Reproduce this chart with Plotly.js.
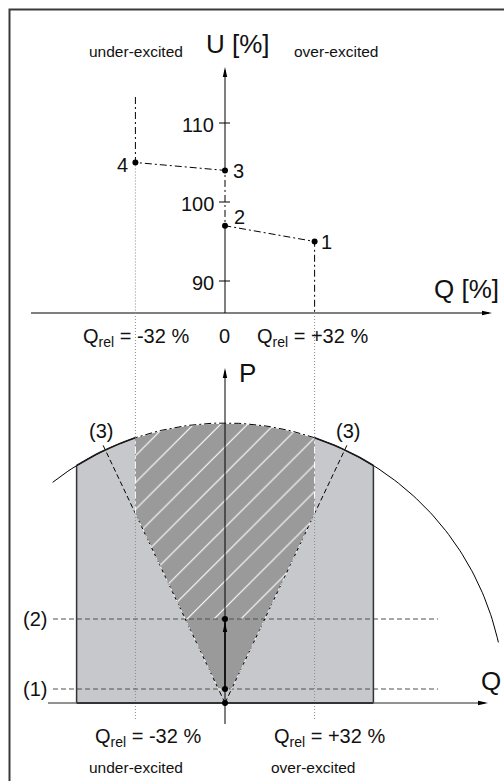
<!DOCTYPE html>
<html>
<head>
<meta charset="utf-8">
<script src="https://cdn.plot.ly/plotly-3.0.1.min.js"></script>
<style>
    html, body { margin: 0; padding: 0; background: #fff; }
    #chart { width: 504px; height: 781px; }
</style>
</head>
<body>
<div id="chart"></div>
<script>
// U(Q) characteristic, points 1..4
var pointNames = ['1', '2', '3', '4'];
var pointQ = [32, 0, 0, -32];
var pointU = [95, 97, 104, 105];
var uTickVals = [90, 100, 110];

// PQ diagram
var qRelLimits = [-32, 32];
var qBoxLimits = [-53, 53];
var pSteps = [5, 30];
var pStepNames = ['(1)', '(2)'];
var sRadius = 100;
var cosPhiQP = 0.473;     // Q/P of the (3) lines
var cosPhiTopP = 93;      // P where the (3) lines stop
var arcEnds = [128, 12.5]; // degrees, drawn part of the S circle

// page geometry in pixels
var W = 504, H = 781;
var X0 = 225, KX = 2.8;
var U100 = 202, KU = 7.9;
var P0 = 703, KP = 2.8;

function qAt(px) { return (px - X0) / KX; }
function uAt(py) { return 100 + (U100 - py) / KU; }
function pAt(py) { return (P0 - py) / KP; }

var FONT = 'Liberation Sans, Arial, sans-serif';
var DASHDOT = '7px,3px,2px,3px';
var DASH = '5px,3px';
var DOT = '1px,2px';

function deg(a) { return a * Math.PI / 180; }
function angleAtQ(q) { return Math.acos(q / sRadius) * 180 / Math.PI; }
function arc(a0, a1, n) {
    var q = [], p = [];
    for (var i = 0; i <= n; i++) {
        var a = deg(a0 + (a1 - a0) * i / n);
        q.push(sRadius * Math.cos(a));
        p.push(sRadius * Math.sin(a));
    }
    return {q: q, p: p};
}

var traces = [];
function line(q, v, axis, color, width, dash) {
    traces.push({
        type: 'scatter', mode: 'lines', x: q, y: v, yaxis: axis,
        line: {color: color, width: width, dash: dash || 'solid'},
        hoverinfo: 'skip', showlegend: false
    });
}
function dots(q, v, axis) {
    traces.push({
        type: 'scatter', mode: 'markers', x: q, y: v, yaxis: axis,
        marker: {color: '#000', size: 6},
        hoverinfo: 'skip', showlegend: false
    });
}

// ---------- upper chart: U over Q ----------
var uAxisQ = uAt(313);
line([0, 0], [uAxisQ, pointU[1]], 'y', '#000', 1);
line([0, 0], [pointU[2], uAt(70)], 'y', '#000', 1);
line([qAt(31), qAt(489)], [uAxisQ, uAxisQ], 'y', '#000', 1);
line([pointQ[3], pointQ[3]], [pointU[3], uAxisQ], 'y', '#8a8a8a', 1, DOT);

var charQ = [pointQ[3]].concat(pointQ.slice().reverse(), [pointQ[0]]);
var charU = [uAt(97)].concat(pointU.slice().reverse(), [uAxisQ]);
line(charQ, charU, 'y', '#000', 1, DASHDOT);
dots(pointQ, pointU, 'y');

// ---------- lower chart: P over Q ----------
var boxArc = arc(angleAtQ(qBoxLimits[1]), angleAtQ(qBoxLimits[0]), 60);
traces.push({
    type: 'scatter', mode: 'lines', yaxis: 'y2', fill: 'toself',
    x: [qBoxLimits[1]].concat(boxArc.q, [qBoxLimits[0]]),
    y: [0].concat(boxArc.p, [0]),
    fillcolor: '#c7c8cc', line: {width: 0},
    hoverinfo: 'skip', showlegend: false
});

var qStep1 = pSteps[0] * cosPhiQP;
var qStep2 = pSteps[1] * cosPhiQP;
var pKnee = qRelLimits[1] / cosPhiQP;
traces.push({
    type: 'scatter', mode: 'lines', yaxis: 'y2', fill: 'toself',
    x: [-qStep1, qStep1, qStep2, -qStep2],
    y: [pSteps[0], pSteps[0], pSteps[1], pSteps[1]],
    fillcolor: '#9a9a9a', line: {width: 0},
    hoverinfo: 'skip', showlegend: false
});
var topArc = arc(angleAtQ(qRelLimits[1]), angleAtQ(qRelLimits[0]), 40);
traces.push({
    type: 'scatter', mode: 'lines', yaxis: 'y2', fill: 'toself',
    x: [-qStep2, qStep2, qRelLimits[1]].concat(topArc.q, [qRelLimits[0]]),
    y: [pSteps[1], pSteps[1], pKnee].concat(topArc.p, [pKnee]),
    fillcolor: '#9a9a9a',
    fillpattern: {shape: '/', fgcolor: '#ffffff', bgcolor: '#9a9a9a', size: 19, solidity: 0.06},
    line: {width: 0},
    hoverinfo: 'skip', showlegend: false
});

// Q_rel construction lines
line([qRelLimits[0], qRelLimits[0]], [pAt(313), pAt(720)], 'y2', '#8a8a8a', 1, DOT);
line([qRelLimits[1], qRelLimits[1]], [pAt(313), pAt(720)], 'y2', '#8a8a8a', 1, DOT);

// (1) and (2) levels
pSteps.forEach(function (p) {
    line([qAt(53), qAt(438)], [p, p], 'y2', '#505050', 1, DASH);
});

// (3) lines and the edges of the allowed area
[-1, 1].forEach(function (s) {
    line([0, s * cosPhiTopP * cosPhiQP], [0, cosPhiTopP], 'y2', '#000', 1, DASH);
    line([s * qStep1, s * qRelLimits[1]], [pSteps[0], pKnee], 'y2', '#ffffff', 1, 'dot');
    line([s * qRelLimits[1], s * qRelLimits[1]], [pKnee, topArc.p[0]], 'y2', '#ffffff', 1, DASHDOT);
});
line([-qStep1, qStep1], [pSteps[0], pSteps[0]], 'y2', '#ffffff', 1, 'dot');

// S circle
var arcL = arc(arcEnds[0], angleAtQ(qRelLimits[0]), 20);
var arcR = arc(angleAtQ(qRelLimits[1]), arcEnds[1], 60);
line(arcL.q, arcL.p, 'y2', '#000', 1);
line(arcR.q, arcR.p, 'y2', '#000', 1);
var boxL = arc(angleAtQ(qBoxLimits[0]), angleAtQ(qRelLimits[0]), 12);
var boxR = arc(angleAtQ(qRelLimits[1]), angleAtQ(qBoxLimits[1]), 12);
line(boxL.q, boxL.p, 'y2', '#1a1a1a', 1.6);
line(boxR.q, boxR.p, 'y2', '#1a1a1a', 1.6);
line(topArc.q, topArc.p, 'y2', '#ffffff', 1.2);
line(topArc.q, topArc.p, 'y2', '#000', 1, DASHDOT);

// box edges
var boxTop = boxArc.p[0];
line([qBoxLimits[0], qBoxLimits[0], null, qBoxLimits[1], qBoxLimits[1]],
     [0, boxTop, null, 0, boxTop], 'y2', '#333', 1.5);

// axes
line([qAt(48), qAt(485)], [0, 0], 'y2', '#6e6e6e', 1.5);
line([qBoxLimits[0], qBoxLimits[1]], [0, 0], 'y2', '#333', 2);
line([0, 0], [pAt(724), pAt(371)], 'y2', '#000', 1);
line([0, 0], [pSteps[0], pSteps[1]], 'y2', '#000', 1.4);
dots([0, 0, 0], [0].concat(pSteps), 'y2');

// ---------- shapes: arrow heads, ticks, frame ----------
function head(yref, q, v, dir, off) {
    off = off || 0;
    var path = dir === 'up'
        ? 'M0,' + (-off) + ' L-2.2,' + (-off - 10) + ' L2.2,' + (-off - 10) + ' Z'
        : 'M' + (-off) + ',0 L' + (-off - 10) + ',-2.2 L' + (-off - 10) + ',2.2 Z';
    return {
        type: 'path', xref: 'x', yref: yref, xsizemode: 'pixel', ysizemode: 'pixel',
        xanchor: q, yanchor: v, path: path, fillcolor: '#000', line: {width: 0}
    };
}

var shapes = [
    head('y', 0, uAt(67), 'up'),
    head('y', qAt(492), uAxisQ, 'right'),
    head('y2', 0, pAt(368), 'up'),
    head('y2', qAt(488), 0, 'right'),
    head('y2', 0, pSteps[1], 'up', 3),
    {
        type: 'rect', xref: 'paper', yref: 'paper',
        x0: 9.5 / W, x1: 1.05, y0: -0.05, y1: 1 - 9.5 / H,
        line: {color: '#3a3a3a', width: 2}
    }
];
uTickVals.forEach(function (u) {
    shapes.push({
        type: 'line', xref: 'x', yref: 'y', xsizemode: 'pixel', xanchor: 0,
        x0: -6, x1: 5, y0: u, y1: u, line: {color: '#000', width: 1}
    });
});

// ---------- texts ----------
function label(text, px, py, size) {
    return {
        xref: 'paper', yref: 'paper', x: px / W, y: 1 - py / H, text: text,
        showarrow: false, xanchor: 'center', yanchor: 'middle',
        font: {family: FONT, size: size, color: '#111'}
    };
}
function dataLabel(text, q, v, yref, xs, ys, anchor) {
    return {
        xref: 'x', yref: yref, x: q, y: v, text: text, showarrow: false,
        xanchor: anchor || 'center', yanchor: 'middle', xshift: xs, yshift: ys,
        font: {family: FONT, size: 20, color: '#111'}
    };
}

var annotations = [
    label('under-excited', 135.5, 51, 15.5),
    label('U [%]', 238, 44, 26),
    label('over-excited', 336, 51, 15.5),
    label('Q [%]', 466, 289, 26),
    label('Q<sub>rel</sub> = ' + qRelLimits[0] + ' %', 135.5, 337, 20),
    label('0', 224.5, 336, 20),
    label('Q<sub>rel</sub> = +' + qRelLimits[1] + ' %', 312.5, 337, 20),
    label('P', 247, 373, 26),
    label('(3)', 101, 431, 20),
    label('(3)', 347.5, 431, 20),
    label('Q', 491, 681, 26),
    label('Q<sub>rel</sub> = ' + qRelLimits[0] + ' %', 147.5, 737, 20),
    label('Q<sub>rel</sub> = +' + qRelLimits[1] + ' %', 329, 737, 20),
    label('under-excited', 135.5, 767, 15.5),
    label('over-excited', 312.5, 767, 15.5)
];
uTickVals.forEach(function (u) {
    annotations.push(dataLabel(String(u), 0, u, 'y', -9, -1.5, 'right'));
});
var pointShift = [[12, 0], [14, 9], [13, -1], [-13, -2]];
pointNames.forEach(function (n, i) {
    annotations.push(dataLabel(n, pointQ[i], pointU[i], 'y', pointShift[i][0], pointShift[i][1]));
});
pStepNames.forEach(function (n, i) {
    annotations.push(dataLabel(n, qAt(34.5), pSteps[i], 'y2', 0, 0));
});

var layout = {
    width: W, height: H,
    margin: {l: 0, r: 0, t: 0, b: 0},
    paper_bgcolor: '#ffffff', plot_bgcolor: '#ffffff',
    showlegend: false,
    xaxis: {range: [qAt(0), qAt(W)], visible: false, fixedrange: true},
    yaxis: {range: [uAt(H), uAt(0)], visible: false, fixedrange: true},
    yaxis2: {range: [pAt(H), pAt(0)], visible: false, overlaying: 'y', fixedrange: true},
    shapes: shapes,
    annotations: annotations
};

Plotly.newPlot('chart', traces, layout, {displayModeBar: false, staticPlot: true});
</script>
</body>
</html>
